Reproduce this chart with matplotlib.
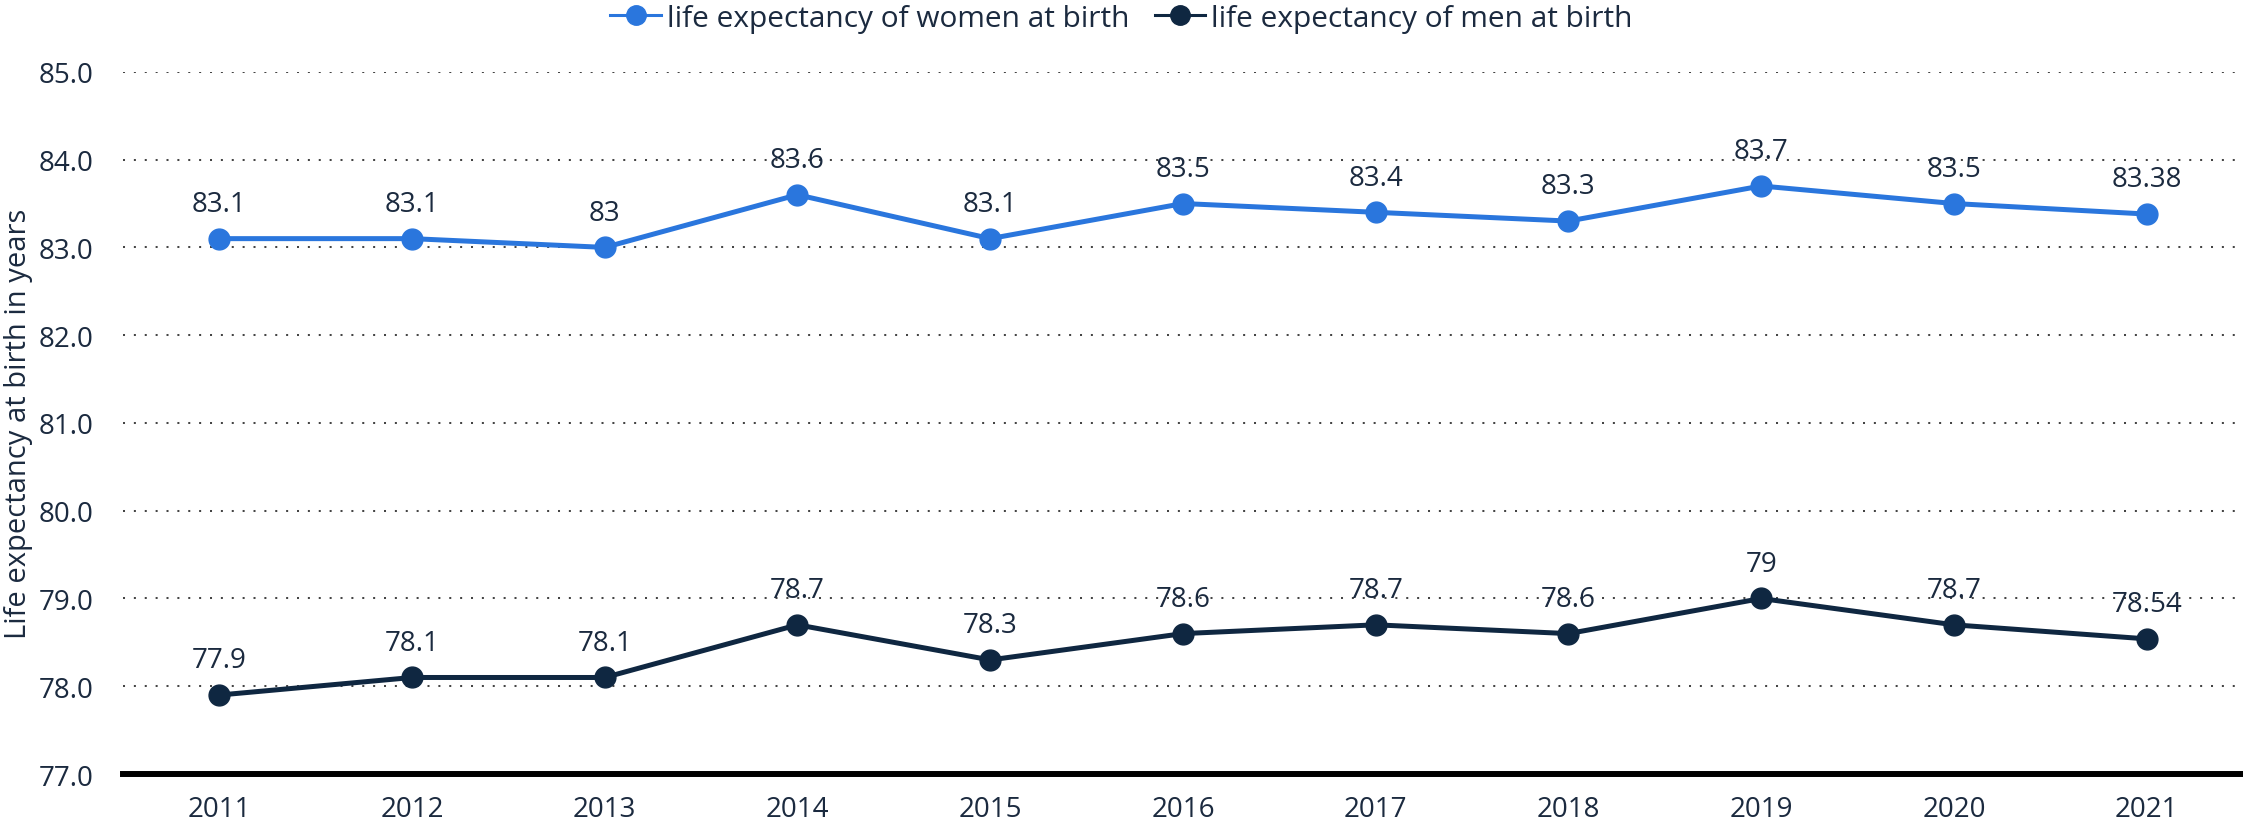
import matplotlib
matplotlib.use("Agg")
import matplotlib.pyplot as plt
from matplotlib.lines import Line2D

plt.rcParams['font.family'] = ['Open Sans', 'DejaVu Sans']

years = [2011, 2012, 2013, 2014, 2015, 2016, 2017, 2018, 2019, 2020, 2021]
women = [83.1, 83.1, 83.0, 83.6, 83.1, 83.5, 83.4, 83.3, 83.7, 83.5, 83.38]
men = [77.9, 78.1, 78.1, 78.7, 78.3, 78.6, 78.7, 78.6, 79.0, 78.7, 78.54]
women_labels = ['83.1', '83.1', '83', '83.6', '83.1', '83.5', '83.4', '83.3', '83.7', '83.5', '83.38']
men_labels = ['77.9', '78.1', '78.1', '78.7', '78.3', '78.6', '78.7', '78.6', '79', '78.7', '78.54']
yticks = [77.0, 78.0, 79.0, 80.0, 81.0, 82.0, 83.0, 84.0, 85.0]
names = ['life expectancy of women at birth', 'life expectancy of men at birth']

blue = '#2a76dd'
navy = '#0f2741'
text_col = '#1b2a3f'

fig = plt.figure(figsize=(22.43, 8.29), dpi=100)
ax = fig.add_axes([0.0548, 0.0651, 0.9452, 0.847])

ax.plot(years, women, color=blue, lw=3.6, marker='o', ms=15, zorder=3)
ax.plot(years, men, color=navy, lw=3.6, marker='o', ms=15, zorder=3)

# value labels above points
for x, y, s in zip(years, women, women_labels):
    ax.annotate(s, (x, y), xytext=(0, 20), textcoords='offset points',
                ha='center', va='baseline', fontsize=20, color=text_col)
for x, y, s in zip(years, men, men_labels):
    ax.annotate(s, (x, y), xytext=(0, 20), textcoords='offset points',
                ha='center', va='baseline', fontsize=20, color=text_col)

ax.set_xlim(years[0] - 0.5, years[-1] + 0.5)
ax.set_ylim(77, 85)
ax.set_xticks(years)
ax.set_yticks(yticks)
ax.set_yticklabels([f'{v:.1f}' for v in yticks])
ax.tick_params(axis='both', length=0, labelsize=20, labelcolor=text_col)
ax.tick_params(axis='x', pad=15)
ax.tick_params(axis='y', pad=21)

ax.grid(axis='y', linestyle=(0, (1, 4.4)), color='#444444', lw=1.45)
ax.set_axisbelow(True)
for side in ['top', 'right', 'left']:
    ax.spines[side].set_visible(False)
ax.spines['bottom'].set_linewidth(4.3)
ax.spines['bottom'].set_color('black')

ax.set_ylabel('Life expectancy at birth in years', fontsize=21, color=text_col)
ax.yaxis.set_label_coords(-0.0425, 0.5)

handles = [Line2D([], [], color=blue, lw=2.2, marker='o', ms=14),
           Line2D([], [], color=navy, lw=2.2, marker='o', ms=14)]
fig.legend(handles, names, loc='center', bbox_to_anchor=(0.5, 1 - 19 / 829), ncol=2,
           frameon=False, fontsize=21.5, handlelength=1.7, handletextpad=0.2,
           columnspacing=0.84, labelcolor=text_col, borderpad=0)

fig.savefig('out.png', dpi=100)
